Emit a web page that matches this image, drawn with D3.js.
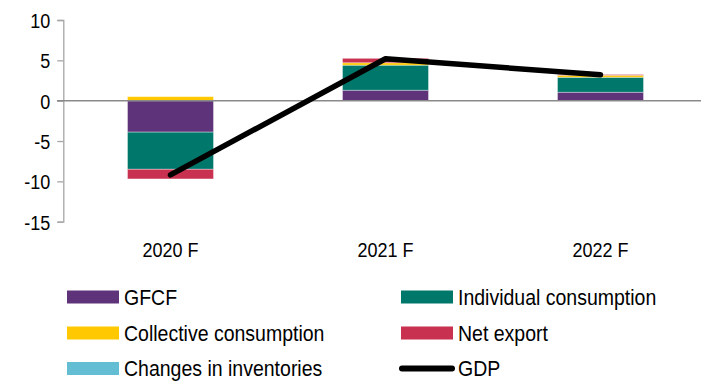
<!DOCTYPE html>
<html>
<head>
<meta charset="utf-8">
<script src="https://cdn.jsdelivr.net/npm/d3@7"></script>
<style>
  html, body { margin: 0; padding: 0; background: #fff; }
  svg { display: block; font-family: "Liberation Sans", Arial, sans-serif; }
</style>
</head>
<body>
<svg id="chart" width="701" height="381"></svg>
<script>
// Contributions to GDP growth (percentage points), forecasts
const years = ["2020 F", "2021 F", "2022 F"];
const gfcf = [-3.9, 1.3, 1.05];
const individualConsumption = [-4.6, 3.1, 1.85];
const collectiveConsumption = [0.5, 0.3, 0.25];
const netExport = [-1.2, 0.55, 0.1];
const inventories = [0, 0, 0];
const gdp = [-9.2, 5.2, 3.2];
const yTicks = [10, 5, 0, -5, -10, -15];

const seriesNames = ["GFCF", "Individual consumption", "Collective consumption", "Net export", "Changes in inventories"];
const seriesValues = [gfcf, individualConsumption, collectiveConsumption, netExport, inventories];
const colors = ["#5e3379", "#00776b", "#ffc800", "#c8314f", "#63bdd3"];

const svg = d3.select("#chart");
const stretch = 1.13; // tall, narrow lettering

const x = d3.scaleBand().domain(years).range([63, 708]).paddingInner(0.6).paddingOuter(0.3);
const y = d3.scaleLinear().domain([-15, 10]).range([221.7, 20]);

// rows for stacking
const rows = years.map((yr, i) => {
  const r = { year: yr };
  seriesNames.forEach((s, j) => r[s] = seriesValues[j][i]);
  return r;
});
const stacked = d3.stack().keys(seriesNames).offset(d3.stackOffsetDiverging)(rows);

// y axis (plain hyphen for negatives)
const yAxis = svg.append("g")
  .attr("transform", "translate(63.3,0)")
  .call(d3.axisLeft(y).tickValues(yTicks).tickSize(6).tickPadding(7).tickFormat(d => String(d)));
yAxis.select(".domain").attr("stroke", "#a6a6a6").attr("stroke-width", 1.3);
yAxis.selectAll(".tick line").attr("stroke", "#a6a6a6").attr("stroke-width", 1.3);
yAxis.selectAll(".tick text")
  .attr("fill", "#000").attr("font-size", 18)
  .attr("font-family", "'Liberation Sans', Arial, sans-serif")
  .attr("dy", "0.36em")
  .attr("transform", `scale(1,${stretch})`);

// bars
svg.append("g").selectAll("g").data(stacked).join("g")
  .attr("fill", (d, i) => colors[i])
  .selectAll("rect").data(d => d).join("rect")
  .attr("x", d => x(d.data.year))
  .attr("width", x.bandwidth())
  .attr("y", d => y(Math.max(d[0], d[1])))
  .attr("height", d => Math.abs(y(d[0]) - y(d[1])))
  .attr("stroke", "rgba(255,255,255,0.45)")
  .attr("stroke-width", 0.8);

// zero line
svg.append("line")
  .attr("x1", 57).attr("x2", 701)
  .attr("y1", y(0)).attr("y2", y(0))
  .attr("stroke", "#8a8a8a").attr("stroke-width", 1.4);

// GDP line
const line = d3.line().x((d, i) => x(years[i]) + x.bandwidth() / 2).y(d => y(d));
svg.append("path")
  .datum(gdp)
  .attr("d", line)
  .attr("fill", "none")
  .attr("stroke", "#000")
  .attr("stroke-width", 5.5)
  .attr("stroke-linecap", "round")
  .attr("stroke-linejoin", "round");

// x labels
svg.append("g").selectAll("text").data(years).join("text")
  .attr("transform", d => `translate(${x(d) + x.bandwidth() / 2},257) scale(1,${stretch})`)
  .attr("text-anchor", "middle")
  .attr("font-size", 18)
  .text(d => d);

// legend
const legendItems = [
  { name: "GFCF", color: colors[0], col: 0, row: 0, type: "rect" },
  { name: "Individual consumption", color: colors[1], col: 1, row: 0, type: "rect" },
  { name: "Collective consumption", color: colors[2], col: 0, row: 1, type: "rect" },
  { name: "Net export", color: colors[3], col: 1, row: 1, type: "rect" },
  { name: "Changes in inventories", color: colors[4], col: 0, row: 2, type: "rect" },
  { name: "GDP", color: "#000", col: 1, row: 2, type: "line" }
];
const colX = [67, 401];
const rowY = [290.5, 326.5, 362];
const legend = svg.append("g");
legendItems.forEach(it => {
  const gx = colX[it.col], gy = rowY[it.row];
  if (it.type === "rect") {
    legend.append("rect").attr("x", gx).attr("y", gy).attr("width", 52).attr("height", 13).attr("fill", it.color);
  } else {
    legend.append("line").attr("x1", gx + 1).attr("x2", gx + 51).attr("y1", gy + 6.5).attr("y2", gy + 6.5)
      .attr("stroke", it.color).attr("stroke-width", 6).attr("stroke-linecap", "round");
  }
  legend.append("text")
    .attr("transform", `translate(${gx + 57},${gy + 14.3}) scale(1,${stretch})`)
    .attr("font-size", 19.5)
    .text(it.name);
});
</script>
</body>
</html>
